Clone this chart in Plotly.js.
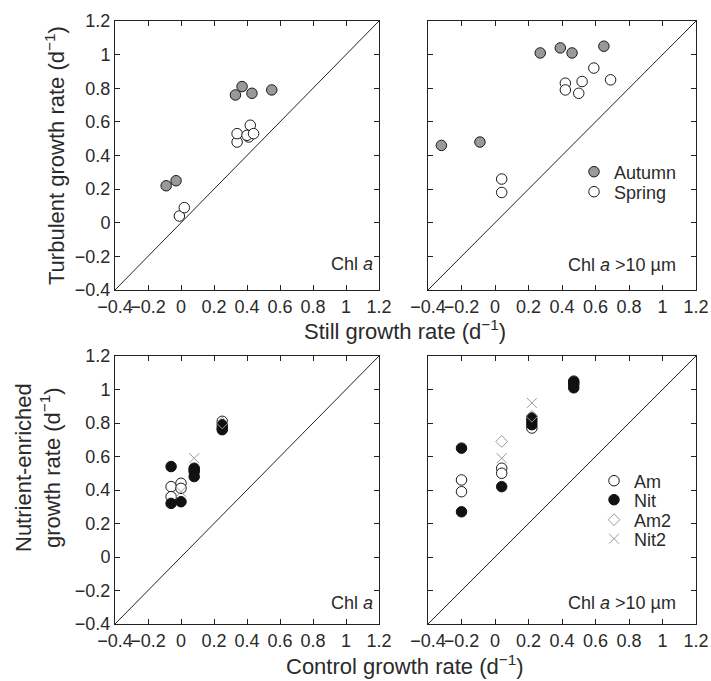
<!DOCTYPE html>
<html>
<head>
<meta charset="utf-8">
<script src="https://cdn.plot.ly/plotly-3.0.1.min.js"></script>
<style>html,body{margin:0;padding:0;background:#fff;}#chart{width:711px;height:681px;}</style>
</head>
<body>
<div id="chart"></div>
<script>
// ---- Data ----
const diag = [-0.4, 1.2];

// Panel 1: Chl a, still vs turbulent
const p1AutumnX = [-0.09, -0.03, 0.33, 0.37, 0.43, 0.55];
const p1AutumnY = [0.22, 0.25, 0.76, 0.81, 0.77, 0.79];
const p1SpringX = [-0.01, 0.02, 0.34, 0.34, 0.41, 0.40, 0.42, 0.44];
const p1SpringY = [0.04, 0.09, 0.48, 0.53, 0.51, 0.52, 0.58, 0.53];

// Panel 2: Chl a >10 µm, still vs turbulent
const p2AutumnX = [-0.32, -0.09, 0.27, 0.39, 0.46, 0.65];
const p2AutumnY = [0.46, 0.48, 1.01, 1.04, 1.01, 1.05];
const p2SpringX = [0.04, 0.04, 0.42, 0.42, 0.50, 0.52, 0.59, 0.69];
const p2SpringY = [0.26, 0.18, 0.83, 0.79, 0.77, 0.84, 0.92, 0.85];

// Panel 3: Chl a, control vs nutrient-enriched
const p3AmX = [-0.06, -0.06, 0.00, 0.00, 0.08, 0.25];
const p3AmY = [0.42, 0.36, 0.44, 0.41, 0.52, 0.81];
const p3NitX = [-0.06, -0.06, 0.00, 0.08, 0.08, 0.08, 0.25, 0.25, 0.25];
const p3NitY = [0.54, 0.32, 0.33, 0.53, 0.51, 0.48, 0.79, 0.77, 0.76];
const p3Am2X = [0.25];
const p3Am2Y = [0.80];
const p3Nit2X = [0.08, 0.00];
const p3Nit2Y = [0.59, 0.39];

// Panel 4: Chl a >10 µm, control vs nutrient-enriched
const p4AmX = [-0.20, -0.20, 0.04, 0.04, 0.22, 0.47];
const p4AmY = [0.46, 0.39, 0.53, 0.50, 0.77, 1.04];
const p4NitX = [-0.20, -0.20, 0.04, 0.22, 0.22, 0.22, 0.47, 0.47, 0.47];
const p4NitY = [0.65, 0.27, 0.42, 0.83, 0.81, 0.79, 1.05, 1.03, 1.01];
const p4Am2X = [0.04, 0.22];
const p4Am2Y = [0.69, 0.84];
const p4Nit2X = [0.04, 0.22];
const p4Nit2Y = [0.59, 0.92];

// ---- Styles ----
const FONT = 'Liberation Sans, Arial, Helvetica, sans-serif';
const TXT = '#2a2a2a';
const mAutumn = {symbol: 'circle', size: 10.5, color: '#999999', line: {color: '#1a1a1a', width: 1}};
const mSpring = {symbol: 'circle', size: 10.5, color: '#ffffff', line: {color: '#1a1a1a', width: 1}};
const mAm = {symbol: 'circle', size: 10.5, color: '#ffffff', line: {color: '#1a1a1a', width: 1}};
const mNit = {symbol: 'circle', size: 10.5, color: '#111111', line: {color: '#111111', width: 1}};
const mAm2 = {symbol: 'diamond-open', size: 9, color: '#9a9a9a', line: {color: '#9a9a9a', width: 1}};
const mNit2 = {symbol: 'x-thin-open', size: 10, color: '#9a9a9a', line: {color: '#9a9a9a', width: 1}};

function diagTrace(xa, ya) {
  return {x: diag, y: diag, xaxis: xa, yaxis: ya, mode: 'lines',
          line: {color: '#222', width: 1}, showlegend: false, hoverinfo: 'skip'};
}
function pts(x, y, xa, ya, name, marker, show, legend) {
  return {x: x, y: y, xaxis: xa, yaxis: ya, mode: 'markers', name: name,
          marker: marker, showlegend: show, legend: legend};
}

const data = [
  diagTrace('x', 'y'), diagTrace('x2', 'y2'), diagTrace('x3', 'y3'), diagTrace('x4', 'y4'),
  pts(p1AutumnX, p1AutumnY, 'x', 'y', 'Autumn', mAutumn, false, 'legend'),
  pts(p1SpringX, p1SpringY, 'x', 'y', 'Spring', mSpring, false, 'legend2'),
  pts(p2AutumnX, p2AutumnY, 'x2', 'y2', 'Autumn', mAutumn, true, 'legend'),
  pts(p2SpringX, p2SpringY, 'x2', 'y2', 'Spring', mSpring, true, 'legend2'),
  pts(p3AmX, p3AmY, 'x3', 'y3', 'Am', mAm, false, 'legend3'),
  pts(p3NitX, p3NitY, 'x3', 'y3', 'Nit', mNit, false, 'legend4'),
  pts(p3Am2X, p3Am2Y, 'x3', 'y3', 'Am2', mAm2, false, 'legend5'),
  pts(p3Nit2X, p3Nit2Y, 'x3', 'y3', 'Nit2', mNit2, false, 'legend6'),
  pts(p4AmX, p4AmY, 'x4', 'y4', 'Am', mAm, true, 'legend3'),
  pts(p4NitX, p4NitY, 'x4', 'y4', 'Nit', mNit, true, 'legend4'),
  pts(p4Am2X, p4Am2Y, 'x4', 'y4', 'Am2', mAm2, true, 'legend5'),
  pts(p4Nit2X, p4Nit2Y, 'x4', 'y4', 'Nit2', mNit2, true, 'legend6')
];

const W = 711, H = 681;
function ax(domain, anchor, showLabels) {
  return {
    domain: domain, anchor: anchor, range: [-0.4, 1.2], tick0: -0.4, dtick: 0.2,
    ticks: 'inside', ticklen: 5, tickwidth: 1, tickcolor: '#222', tickangle: 0,
    showline: true, linecolor: '#222', linewidth: 1, mirror: 'ticks',
    showgrid: false, zeroline: false, showticklabels: showLabels,
    tickfont: {family: FONT, size: 18, color: TXT}, fixedrange: true
  };
}
function leg(xPx, yPx) {
  return {x: xPx / W, y: 1 - yPx / H, xanchor: 'left', yanchor: 'middle',
          bgcolor: 'rgba(0,0,0,0)', borderwidth: 0,
          font: {family: FONT, size: 18, color: TXT}};
}
const xd1 = [115 / W, 379 / W], xd2 = [428 / W, 696 / W];
const yd1 = [1 - 290 / H, 1 - 21 / H], yd2 = [1 - 624 / H, 1 - 356 / H];

const layout = {
  width: W, height: H,
  margin: {l: 0, r: 0, t: 0, b: 0},
  paper_bgcolor: '#fff', plot_bgcolor: '#fff',
  font: {family: FONT, color: TXT},
  xaxis: ax(xd1, 'y', true), yaxis: ax(yd1, 'x', true),
  xaxis2: ax(xd2, 'y2', true), yaxis2: ax(yd1, 'x2', false),
  xaxis3: ax(xd1, 'y3', true), yaxis3: ax(yd2, 'x3', true),
  xaxis4: ax(xd2, 'y4', true), yaxis4: ax(yd2, 'x4', false),
  legend: leg(574, 172),
  legend2: leg(574, 192),
  legend3: leg(594, 481),
  legend4: leg(594, 500),
  legend5: leg(594, 520),
  legend6: leg(594, 539),
  annotations: [
    {text: 'Chl <i>a</i>', xref: 'paper', yref: 'paper', x: 375 / W, y: 1 - 264 / H,
     xanchor: 'right', yanchor: 'middle', showarrow: false, font: {family: FONT, size: 18, color: TXT}},
    {text: 'Chl <i>a</i> >10 µm', xref: 'paper', yref: 'paper', x: 678 / W, y: 1 - 265 / H,
     xanchor: 'right', yanchor: 'middle', showarrow: false, font: {family: FONT, size: 18, color: TXT}},
    {text: 'Chl <i>a</i>', xref: 'paper', yref: 'paper', x: 375 / W, y: 1 - 603 / H,
     xanchor: 'right', yanchor: 'middle', showarrow: false, font: {family: FONT, size: 18, color: TXT}},
    {text: 'Chl <i>a</i> >10 µm', xref: 'paper', yref: 'paper', x: 678 / W, y: 1 - 603 / H,
     xanchor: 'right', yanchor: 'middle', showarrow: false, font: {family: FONT, size: 18, color: TXT}},
    {text: 'Turbulent growth rate (d<sup>−1</sup>)', xref: 'paper', yref: 'paper',
     x: 55 / W, y: 1 - 156 / H, textangle: -90, xanchor: 'center', yanchor: 'middle',
     showarrow: false, font: {family: FONT, size: 22, color: TXT}},
    {text: 'Nutrient-enriched<br>growth rate (d<sup>−1</sup>)', xref: 'paper', yref: 'paper',
     x: 38 / W, y: 1 - 468 / H, textangle: -90, xanchor: 'center', yanchor: 'middle',
     showarrow: false, font: {family: FONT, size: 22, color: TXT}},
    {text: 'Still growth rate (d<sup>−1</sup>)', xref: 'paper', yref: 'paper',
     x: 405 / W, y: 1 - 330 / H, xanchor: 'center', yanchor: 'middle',
     showarrow: false, font: {family: FONT, size: 22, color: TXT}},
    {text: 'Control growth rate (d<sup>−1</sup>)', xref: 'paper', yref: 'paper',
     x: 405 / W, y: 1 - 665 / H, xanchor: 'center', yanchor: 'middle',
     showarrow: false, font: {family: FONT, size: 22, color: TXT}}
  ]
};

Plotly.newPlot('chart', data, layout, {displayModeBar: false, staticPlot: true});
</script>
</body>
</html>
